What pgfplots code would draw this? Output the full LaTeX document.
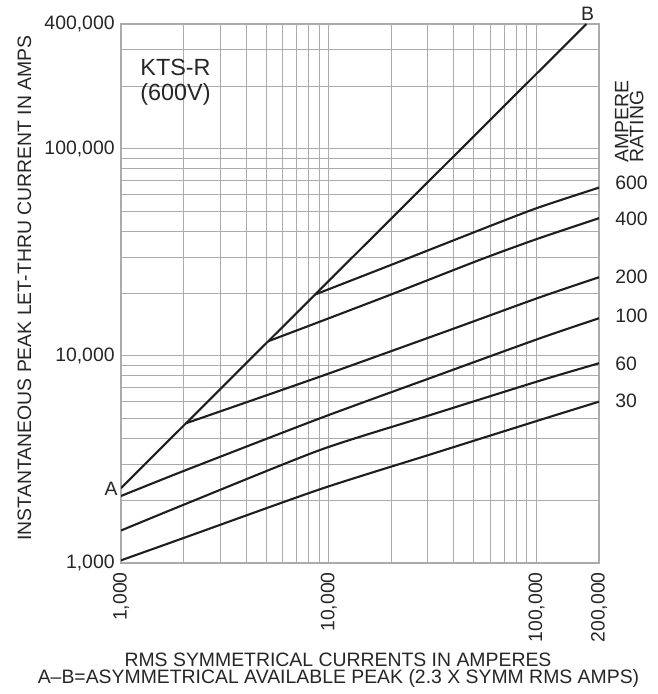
\documentclass[border=0pt]{standalone}
\usepackage{fontspec}
\setmainfont{Liberation Sans}
\usepackage{pgfplots}
\pgfplotsset{compat=1.18}
\definecolor{gridgray}{HTML}{ABABAB}
\definecolor{curve}{HTML}{1E1E1E}
\begin{document}
\fontsize{9.7}{11.6}\selectfont
\begin{tikzpicture}
\begin{axis}[
  scale only axis, width=239pt, height=269.5pt,
  at={(0,0)}, anchor=south west,
  xmode=log, ymode=log,
  xmin=1000, xmax=200000, ymin=1000, ymax=400000,
  /pgf/number format/assume math mode=true,
  xtick={1000,10000,100000,200000},
  xticklabels={{1,000},{10,000},{100,000},{200,000}},
  ytick={1000,10000,100000,400000},
  yticklabels={{1,000},{10,000},{100,000},{400,000}},
  minor xtick={2000,3000,4000,5000,6000,7000,8000,9000,20000,30000,40000,50000,60000,70000,80000,90000},
  minor ytick={2000,3000,4000,5000,6000,7000,8000,9000,20000,30000,40000,50000,60000,70000,80000,90000,200000,300000},
  grid=both,
  major grid style={draw=gridgray, line width=0.5pt},
  minor grid style={draw=gridgray, line width=0.5pt},
  axis line style={draw=gridgray, line width=0.6pt},
  major tick length=0pt, minor tick length=0pt,
  xticklabel style={rotate=90, anchor=east, inner xsep=4.5pt, inner ysep=0pt, text=black!85},
  yticklabel style={anchor=east, inner xsep=3pt, inner ysep=0pt, text=black!85},
]
% A-B line (2.3 x symmetrical RMS)
\addplot[curve, line width=1.05pt, mark=none] coordinates {(1000,2300) (173913,400000)};
% 600 A
\addplot[curve, line width=1.05pt, mark=none, smooth, tension=0.4] coordinates {(8600,19780) (20000,27500) (53500,40550) (100000,51600) (200000,64900)};
% 400 A
\addplot[curve, line width=1.05pt, mark=none, smooth, tension=0.4] coordinates {(5120,11770) (9080,14630) (20000,19800) (53500,29100) (100000,36600) (200000,46200)};
% 200 A
\addplot[curve, line width=1.05pt, mark=none, smooth, tension=0.4] coordinates {(2055,4727) (9080,7940) (38370,13340) (104000,19190) (200000,23960)};
% 100 A
\addplot[curve, line width=1.05pt, mark=none, smooth, tension=0.4] coordinates {(1000,2106) (2000,2780) (9080,4996) (30600,7795) (104000,12160) (200000,15190)};
% 60 A
\addplot[curve, line width=1.05pt, mark=none, smooth, tension=0.4] coordinates {(1000,1435) (2000,1910) (9080,3512) (30600,5167) (104000,7592) (200000,9210)};
% 30 A
\addplot[curve, line width=1.05pt, mark=none, smooth, tension=0.4] coordinates {(1000,1030) (2000,1320) (9080,2270) (30600,3334) (104000,4904) (200000,6010)};
\end{axis}
\begin{scope}[every node/.style={text=black!85}]
\node[rotate=90] at (-48.25pt,137.5pt) {INSTANTANEOUS PEAK LET-THRU CURRENT IN AMPS};
\node at (108.5pt,-48.5pt) {RMS SYMMETRICAL CURRENTS IN AMPERES};
\node at (108.75pt,-57.5pt) {A--B=ASYMMETRICAL AVAILABLE PEAK (2.3 X SYMM RMS AMPS)};
\node[anchor=west, inner sep=0pt, font=\fontsize{11.7}{14}\selectfont] at (9.5pt,248pt) {KTS-R};
\node[anchor=west, inner sep=0pt, font=\fontsize{11.7}{14}\selectfont] at (9.5pt,234.5pt) {(600V)};
\node[rotate=90, anchor=west, inner sep=0pt] at (250.3pt,200pt) {AMPERE};
\node[rotate=90, anchor=west, inner sep=0pt] at (257.8pt,200pt) {RATING};
\node[anchor=west, inner sep=0pt] at (247pt,190pt) {600};
\node[anchor=west, inner sep=0pt] at (247pt,172pt) {400};
\node[anchor=west, inner sep=0pt] at (247pt,143pt) {200};
\node[anchor=west, inner sep=0pt] at (247pt,123.5pt) {100};
\node[anchor=west, inner sep=0pt] at (247pt,99.5pt) {60};
\node[anchor=west, inner sep=0pt] at (247pt,81pt) {30};
\node[anchor=east, inner sep=0pt] at (-1.5pt,37pt) {A};
\node[inner sep=0pt] at (233.25pt,274.5pt) {B};
\end{scope}
\pgfresetboundingbox
\path[use as bounding box] (-60.5pt,-65.5pt) rectangle (268pt,281.5pt);
\end{tikzpicture}
\end{document}
